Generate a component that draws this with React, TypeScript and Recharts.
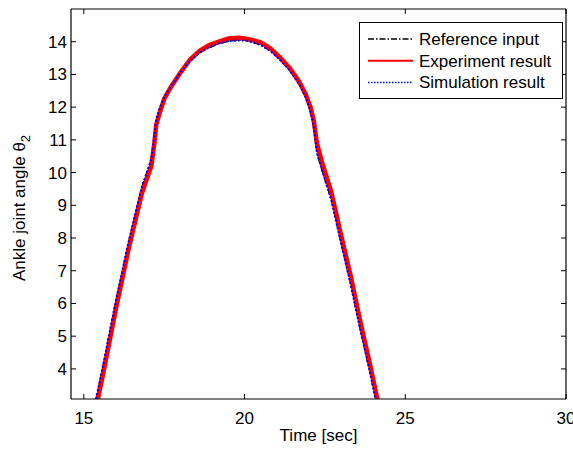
import {
  LineChart,
  Line,
  XAxis,
  YAxis,
  Label,
} from "recharts";

// time stamps (sec) shared by all three series
const time = [
  15.3, 15.6, 16.0, 16.4, 16.8, 17.1, 17.2, 17.25, 17.35, 17.5, 17.7, 18.0,
  18.3, 18.6, 18.9, 19.2, 19.5, 19.8, 20.0, 20.2, 20.5, 20.8, 21.1, 21.4,
  21.7, 21.9, 22.05, 22.15, 22.25, 22.4, 22.7, 23.0, 23.3, 23.6, 23.9, 24.2,
];

const referenceInput = [
  2.7, 4.1, 6.1, 7.9, 9.55, 10.4, 11.2, 11.6, 11.92, 12.3, 12.6, 13.05,
  13.4, 13.66, 13.82, 13.94, 14.02, 14.05, 14.05, 14.0, 13.9, 13.73, 13.45, 13.14,
  12.7, 12.3, 11.9, 11.4, 10.6, 10.1, 9.17, 7.85, 6.6, 5.2, 3.9, 2.5,
];

const experimentResult = [
  2.45, 3.85, 5.85, 7.7, 9.35, 10.2, 10.95, 11.45, 11.8, 12.25, 12.6, 13.05,
  13.45, 13.72, 13.9, 14.0, 14.1, 14.12, 14.1, 14.06, 13.98, 13.8, 13.52, 13.2,
  12.78, 12.4, 12.0, 11.6, 10.9, 10.35, 9.4, 8.1, 6.85, 5.45, 4.15, 2.75,
];

const simulationResult = [
  2.72, 4.12, 6.1, 7.92, 9.55, 10.42, 11.18, 11.62, 11.94, 12.32, 12.62, 13.06,
  13.41, 13.67, 13.83, 13.95, 14.02, 14.04, 14.04, 14.0, 13.9, 13.72, 13.45, 13.13,
  12.7, 12.3, 11.88, 11.42, 10.62, 10.1, 9.15, 7.85, 6.58, 5.2, 3.9, 2.5,
];

const xTicks = [15, 20, 25, 30];
const yTicks = [4, 5, 6, 7, 8, 9, 10, 11, 12, 13, 14];

const legendItems = [
  { name: "Reference input", color: "#000000", dash: "6 2 1.5 2", width: 1.5 },
  { name: "Experiment result", color: "#ff0000", dash: undefined, width: 2 },
  { name: "Simulation result", color: "#0000ff", dash: "1.5 1.5", width: 1.5 },
];

const data = time.map((t, i) => ({
  t,
  reference: referenceInput[i],
  experiment: experimentResult[i],
  simulation: simulationResult[i],
}));

const FONT = "Arial, 'Liberation Sans', Helvetica, sans-serif";
const X_DOMAIN = [14.6, 30];
const Y_DOMAIN = [3.08, 15];

const BottomTick = ({ x, y, payload }: any) => (
  <g>
    <path d={`M${x},${y}V${y - 5}`} stroke="#000" strokeWidth={1} fill="none" />
    <text x={x} y={y + 25} textAnchor="middle" fontSize={17} fontFamily={FONT} fill="#000">
      {payload.value}
    </text>
  </g>
);

const TopTick = ({ x, y }: any) => (
  <path d={`M${x},${y}V${y + 5}`} stroke="#000" strokeWidth={1} fill="none" />
);

const LeftTick = ({ x, y, payload }: any) => (
  <g>
    <path d={`M${x},${y}H${x + 5}`} stroke="#000" strokeWidth={1} fill="none" />
    <text x={x - 4} y={y + 6} textAnchor="end" fontSize={17} fontFamily={FONT} fill="#000">
      {payload.value}
    </text>
  </g>
);

const RightTick = ({ x, y }: any) => (
  <path d={`M${x},${y}H${x - 5}`} stroke="#000" strokeWidth={1} fill="none" />
);

const YLabel = ({ viewBox }: any) => {
  const cy = viewBox.y + viewBox.height / 2 + 4;
  const cx = 25;
  return (
    <text
      x={cx}
      y={cy}
      transform={`rotate(-90, ${cx}, ${cy})`}
      textAnchor="middle"
      fontSize={17}
      fontFamily={FONT}
      fill="#000"
    >
      Ankle joint angle θ
      <tspan fontSize={13} dy={5}>2</tspan>
    </text>
  );
};

const axisLine = { stroke: "#000", strokeWidth: 1.2 };

function ChartLegend() {
  return (
    <div style={{ position: "absolute", left: 359, top: 22 }}>
      <svg width={204} height={77} style={{ display: "block" }}>
        <rect x={0.5} y={0.5} width={203} height={76} fill="#fff" stroke="#000" />
        {legendItems.map((item, i) => {
          const cy = 17 + i * 21.7;
          return (
            <g key={item.name}>
              <line
                x1={9}
                x2={54}
                y1={cy}
                y2={cy}
                stroke={item.color}
                strokeWidth={item.width}
                strokeDasharray={item.dash}
              />
              <text x={60} y={cy + 6} fontSize={17} fontFamily={FONT} fill="#000">
                {item.name}
              </text>
            </g>
          );
        })}
      </svg>
    </div>
  );
}

export default function App() {
  return (
    <div style={{ position: "absolute", left: 0, top: 0, width: 573, height: 450, background: "#fff" }}>
      <LineChart
        width={573}
        height={450}
        data={data}
        margin={{ top: 8, right: 6, left: 0, bottom: 0 }}
      >
        <XAxis
          dataKey="t"
          type="number"
          domain={X_DOMAIN}
          ticks={xTicks}
          height={51}
          tickSize={0}
          tickMargin={0}
          tickLine={false}
          axisLine={axisLine}
          tick={<BottomTick />}
          interval={0}
        >
          <Label
            value="Time [sec]"
            position="insideBottom"
            offset={9}
            fontSize={17}
            fontFamily={FONT}
            fill="#000"
          />
        </XAxis>
        <XAxis
          xAxisId="top"
          orientation="top"
          dataKey="t"
          type="number"
          domain={X_DOMAIN}
          ticks={xTicks}
          height={1}
          tickSize={0}
          tickMargin={0}
          tickLine={false}
          axisLine={axisLine}
          tick={<TopTick />}
          interval={0}
        />
        <YAxis
          type="number"
          domain={Y_DOMAIN}
          ticks={yTicks}
          allowDataOverflow
          width={71}
          tickSize={0}
          tickMargin={0}
          tickLine={false}
          axisLine={axisLine}
          tick={<LeftTick />}
          interval={0}
        >
          <Label content={<YLabel />} />
        </YAxis>
        <YAxis
          yAxisId="right"
          orientation="right"
          type="number"
          domain={Y_DOMAIN}
          ticks={yTicks}
          allowDataOverflow
          width={1}
          tickSize={0}
          tickMargin={0}
          tickLine={false}
          axisLine={axisLine}
          tick={<RightTick />}
          interval={0}
        />
        <Line
          type="linear"
          dataKey="reference"
          stroke="#000"
          strokeWidth={1.5}
          strokeDasharray="6 2 1.5 2"
          dot={false}
          isAnimationActive={false}
        />
        <Line
          type="linear"
          dataKey="experiment"
          stroke="#ff0000"
          strokeWidth={4.5}
          dot={false}
          isAnimationActive={false}
        />
        <Line
          type="linear"
          dataKey="simulation"
          stroke="#0000ff"
          strokeWidth={2}
          strokeDasharray="2 2"
          dot={false}
          isAnimationActive={false}
        />
      </LineChart>
      <ChartLegend />
    </div>
  );
}
